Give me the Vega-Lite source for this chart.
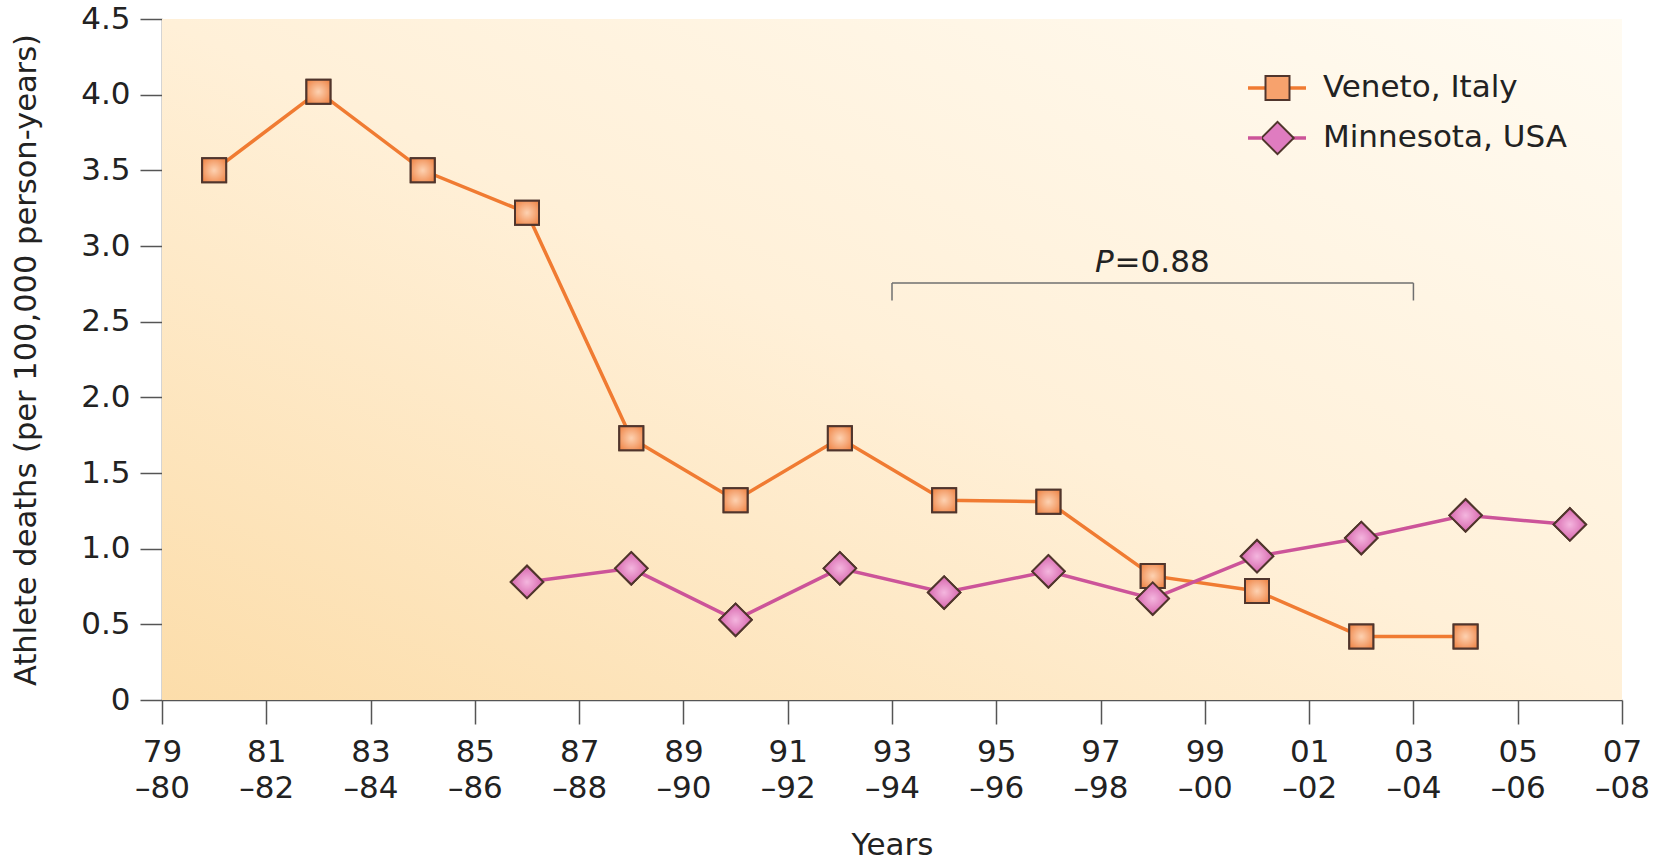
{
  "$schema": "https://vega.github.io/schema/vega-lite/v6.json",
  "width": 1460,
  "height": 681,
  "autosize": {"type": "none"},
  "padding": {"left": 162, "top": 19, "right": 41, "bottom": 161},
  "background": "#ffffff",
  "config": {
    "font": "DejaVu Sans",
    "view": {"stroke": null},
    "axis": {
      "grid": false,
      "domainColor": "#555555",
      "domainWidth": 1.5,
      "tickColor": "#555555",
      "tickWidth": 1.5,
      "labelFont": "DejaVu Sans",
      "labelFontSize": 31,
      "labelColor": "#222222",
      "titleFont": "DejaVu Sans",
      "titleFontWeight": "normal",
      "titleColor": "#222222"
    }
  },
  "datasets": {
    "deaths": [
      {"year": 1980, "rate": 3.5, "series": "Veneto, Italy"},
      {"year": 1982, "rate": 4.02, "series": "Veneto, Italy"},
      {"year": 1984, "rate": 3.5, "series": "Veneto, Italy"},
      {"year": 1986, "rate": 3.22, "series": "Veneto, Italy"},
      {"year": 1988, "rate": 1.73, "series": "Veneto, Italy"},
      {"year": 1990, "rate": 1.32, "series": "Veneto, Italy"},
      {"year": 1992, "rate": 1.73, "series": "Veneto, Italy"},
      {"year": 1994, "rate": 1.32, "series": "Veneto, Italy"},
      {"year": 1996, "rate": 1.31, "series": "Veneto, Italy"},
      {"year": 1998, "rate": 0.82, "series": "Veneto, Italy"},
      {"year": 2000, "rate": 0.72, "series": "Veneto, Italy"},
      {"year": 2002, "rate": 0.42, "series": "Veneto, Italy"},
      {"year": 2004, "rate": 0.42, "series": "Veneto, Italy"},
      {"year": 1986, "rate": 0.78, "series": "Minnesota, USA"},
      {"year": 1988, "rate": 0.87, "series": "Minnesota, USA"},
      {"year": 1990, "rate": 0.53, "series": "Minnesota, USA"},
      {"year": 1992, "rate": 0.87, "series": "Minnesota, USA"},
      {"year": 1994, "rate": 0.71, "series": "Minnesota, USA"},
      {"year": 1996, "rate": 0.85, "series": "Minnesota, USA"},
      {"year": 1998, "rate": 0.67, "series": "Minnesota, USA"},
      {"year": 2000, "rate": 0.95, "series": "Minnesota, USA"},
      {"year": 2002, "rate": 1.07, "series": "Minnesota, USA"},
      {"year": 2004, "rate": 1.22, "series": "Minnesota, USA"},
      {"year": 2006, "rate": 1.16, "series": "Minnesota, USA"}
    ],
    "annotation": [
      {"test": "P=0.88", "from": 1993, "to": 2003}
    ]
  },
  "layer": [
    {
      "data": {"name": "annotation"},
      "mark": {
        "type": "rect",
        "fill": {
          "gradient": "linear",
          "x1": 0, "y1": 1, "x2": 1, "y2": 0,
          "stops": [
            {"offset": 0, "color": "#fcddaa"},
            {"offset": 0.5, "color": "#fff0d8"},
            {"offset": 1, "color": "#fffbf2"}
          ]
        }
      },
      "encoding": {
        "x": {
          "datum": 1979,
          "type": "quantitative",
          "scale": {"domain": [1979, 2007], "nice": false, "zero": false},
          "axis": {
            "title": "Years",
            "titleFontSize": 31,
            "titlePadding": 27,
            "values": [1979, 1981, 1983, 1985, 1987, 1989, 1991, 1993, 1995, 1997, 1999, 2001, 2003, 2005, 2007],
            "labelExpr": "[slice(format(datum.value, 'd'), 2), '–' + slice(format(datum.value + 1, 'd'), 2)]",
            "labelLineHeight": 36,
            "labelPadding": 13,
            "labelFlush": false,
            "labelOverlap": false,
            "labelBound": false,
            "tickSize": 24
          }
        },
        "x2": {"datum": 2007},
        "y": {
          "datum": 0,
          "type": "quantitative",
          "scale": {"domain": [0, 4.5], "nice": false},
          "axis": {
            "title": "Athlete deaths (per 100,000 person-years)",
            "titleFontSize": 30.5,
            "titlePadding": 39,
            "values": [0, 0.5, 1, 1.5, 2, 2.5, 3, 3.5, 4, 4.5],
            "labelExpr": "datum.value == 0 ? '0' : format(datum.value, '.1f')",
            "labelPadding": 10,
            "tickSize": 22
          }
        },
        "y2": {"datum": 4.5}
      }
    },
    {
      "data": {"name": "annotation"},
      "mark": {"type": "rule", "color": "#6f6f6f", "strokeWidth": 1.5},
      "encoding": {
        "x": {"field": "from", "type": "quantitative"},
        "x2": {"field": "to"},
        "y": {"datum": 2.755, "type": "quantitative"}
      }
    },
    {
      "data": {"name": "annotation"},
      "mark": {"type": "rule", "color": "#6f6f6f", "strokeWidth": 1.5},
      "encoding": {
        "x": {"field": "from", "type": "quantitative"},
        "y": {"datum": 2.64, "type": "quantitative"},
        "y2": {"datum": 2.755}
      }
    },
    {
      "data": {"name": "annotation"},
      "mark": {"type": "rule", "color": "#6f6f6f", "strokeWidth": 1.5},
      "encoding": {
        "x": {"field": "to", "type": "quantitative"},
        "y": {"datum": 2.64, "type": "quantitative"},
        "y2": {"datum": 2.755}
      }
    },
    {
      "data": {"name": "annotation"},
      "mark": {"type": "text", "text": "P", "fontStyle": "italic", "fontSize": 31, "align": "right", "baseline": "alphabetic", "color": "#222222", "font": "DejaVu Sans"},
      "encoding": {
        "x": {"datum": 1997.25, "type": "quantitative"},
        "y": {"datum": 2.83, "type": "quantitative"}
      }
    },
    {
      "data": {"name": "annotation"},
      "mark": {"type": "text", "text": "=0.88", "fontSize": 31, "align": "left", "baseline": "alphabetic", "color": "#222222", "font": "DejaVu Sans", "dx": 1},
      "encoding": {
        "x": {"datum": 1997.25, "type": "quantitative"},
        "y": {"datum": 2.83, "type": "quantitative"}
      }
    },
    {
      "data": {"name": "deaths"},
      "mark": {"type": "line", "strokeWidth": 3.5},
      "encoding": {
        "x": {"field": "year", "type": "quantitative"},
        "y": {"field": "rate", "type": "quantitative"},
        "stroke": {
          "field": "series",
          "type": "nominal",
          "scale": {"domain": ["Veneto, Italy", "Minnesota, USA"], "range": ["#f07b32", "#cc5499"]},
          "legend": {
            "orient": "none",
            "legendX": 1084,
            "legendY": 49,
            "title": null,
            "padding": 0,
            "symbolType": "stroke",
            "symbolSize": 3364,
            "symbolStrokeWidth": 3.5,
            "clipHeight": 40,
            "rowPadding": 10,
            "labelExpr": "''",
            "labelFontSize": 31,
            "labelFont": "DejaVu Sans",
            "labelOffset": 19
          }
        }
      }
    },
    {
      "data": {"name": "deaths"},
      "mark": {"type": "point", "filled": true, "opacity": 1, "size": 576, "stroke": "#50352c", "strokeWidth": 2},
      "encoding": {
        "x": {"field": "year", "type": "quantitative"},
        "y": {"field": "rate", "type": "quantitative"},
        "fill": {
          "field": "series",
          "type": "nominal",
          "sort": ["Veneto, Italy", "Minnesota, USA"],
          "scale": {"range": ["#f7a26d", "#df7cc0"]},
          "legend": {
            "orient": "none",
            "legendX": 1100,
            "legendY": 49,
            "title": null,
            "padding": 0,
            "symbolSize": 576,
            "symbolStrokeColor": "#50352c",
            "symbolStrokeWidth": 2,
            "symbolOpacity": 1,
            "clipHeight": 40,
            "rowPadding": 10,
            "labelFontSize": 31,
            "labelFont": "DejaVu Sans",
            "labelColor": "#222222",
            "labelOffset": 30,
            "labelLimit": 400,
            "encode": {
              "symbols": {
                "update": {
                  "shape": {"signal": "datum.value === 'Veneto, Italy' ? 'square' : 'M-1.35,0L0,-1.35L1.35,0L0,1.35Z'"}
                }
              }
            }
          }
        },
        "shape": {
          "field": "series",
          "type": "nominal",
          "sort": ["Veneto, Italy", "Minnesota, USA"],
          "scale": {"range": ["square", "M-1.35,0L0,-1.35L1.35,0L0,1.35Z"]},
          "legend": null
        }
      }
    },
    {
      "data": {"name": "deaths"},
      "transform": [{"filter": "datum.series === 'Veneto, Italy'"}],
      "mark": {
        "type": "point", "filled": true, "opacity": 1, "size": 576, "shape": "square", "stroke": "#50352c", "strokeWidth": 2,
        "fill": {
          "gradient": "radial", "x1": 0.5, "y1": 0.5, "r1": 0, "x2": 0.5, "y2": 0.5, "r2": 0.6,
          "stops": [
            {"offset": 0, "color": "#fdd2b2"},
            {"offset": 1, "color": "#f08a4e"}
          ]
        }
      },
      "encoding": {
        "x": {"field": "year", "type": "quantitative"},
        "y": {"field": "rate", "type": "quantitative"}
      }
    },
    {
      "data": {"name": "deaths"},
      "transform": [{"filter": "datum.series === 'Minnesota, USA'"}],
      "mark": {
        "type": "point", "filled": true, "opacity": 1, "size": 576, "shape": "M-1.35,0L0,-1.35L1.35,0L0,1.35Z", "stroke": "#50352c", "strokeWidth": 2,
        "fill": {
          "gradient": "radial", "x1": 0.5, "y1": 0.5, "r1": 0, "x2": 0.5, "y2": 0.5, "r2": 0.55,
          "stops": [
            {"offset": 0, "color": "#f4b6de"},
            {"offset": 1, "color": "#d45ea9"}
          ]
        }
      },
      "encoding": {
        "x": {"field": "year", "type": "quantitative"},
        "y": {"field": "rate", "type": "quantitative"}
      }
    }
  ]
}
